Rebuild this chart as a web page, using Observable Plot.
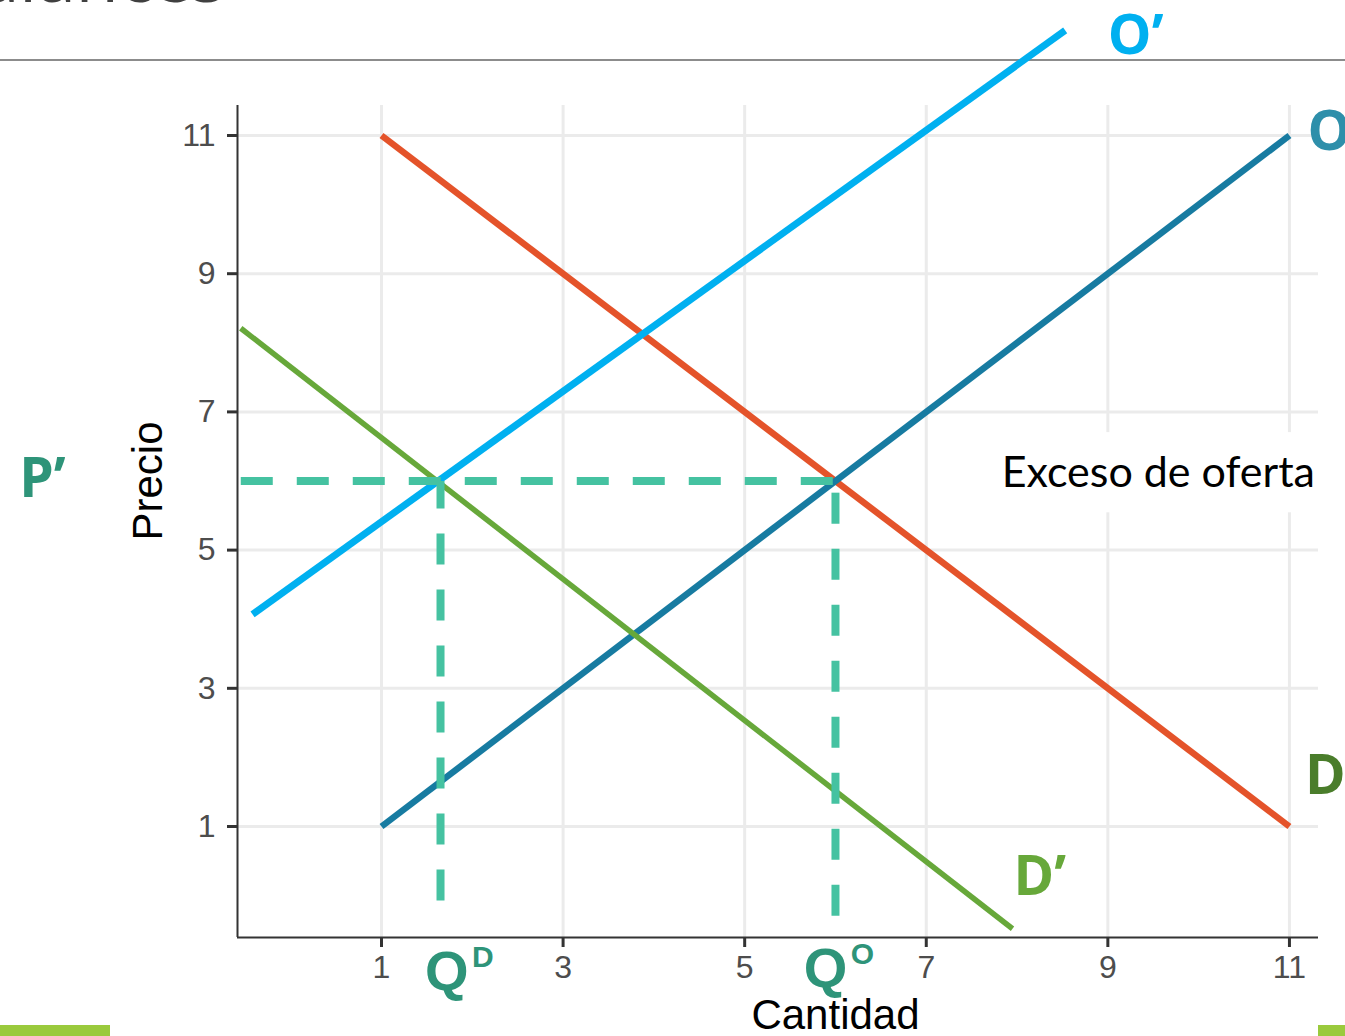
<!DOCTYPE html>
<html>
<head>
<meta charset="utf-8">
<script src="https://cdn.jsdelivr.net/npm/d3@7"></script>
<script src="https://cdn.jsdelivr.net/npm/@observablehq/plot@0.6"></script>
<style>
  html, body { margin: 0; padding: 0; background: #fff; }
  #wrap { position: relative; width: 1345px; height: 1036px; overflow: hidden; background: #fff; }
  #chart { position: absolute; left: 0; top: 0; }
  #chart svg { overflow: visible; }
  .title { position: absolute; right: 1120px; top: -60px; font-family: "Open Sans", sans-serif; font-size: 70px; line-height: 70px; color: #404040; white-space: nowrap; }
  .hrule { position: absolute; left: 0; top: 59px; width: 1345px; height: 2px; background: #8C8C8C; }
  .bar { position: absolute; top: 1025px; height: 11px; background: #9ACA3C; }
</style>
</head>
<body>
<div id="wrap">
  <div class="title">Balances</div>
  <div class="hrule"></div>
  <div id="chart"></div>
  <div class="bar" style="left:0;width:110px"></div>
  <div class="bar" style="left:1318px;width:27px"></div>
</div>
<script>
// ---- axis ticks ----
const xTicks = [1, 3, 5, 7, 9, 11];
const yTicks = [1, 3, 5, 7, 9, 11];
const xDomain = [-0.586, 11.32];
const yDomain = [-0.606, 11.434];

// ---- curves (Cantidad, Precio) ----
const demandQ = [1, 11];        const demandP = [11, 1];          // D
const supplyQ = [1, 11];        const supplyP = [1, 11];          // O
const supplyNewQ = [-0.42, 8.53]; const supplyNewP = [4.07, 12.52]; // O'
const demandNewQ = [-0.55, 7.95]; const demandNewP = [8.21, -0.48]; // D'

// ---- new price and quantities ----
const priceNew = 6;             // P'
const qDemandNew = 1.65;        // Q^D
const qSupplyNew = 6;           // Q^O
const dashFloorD = -0.07;
const dashFloorO = -0.29;

// ---- labels ----
const curveLabels = ["O’", "O", "D", "D’", "P’"];
const curveLabelX = [9.0, 11.2, 11.17, 7.96, -2.99];
const curveLabelY = [12.43, 11.04, 1.72, 0.26, 6.02];
const curveLabelColor = ["#00B0F0", "#2E8FAA", "#4A7D2B", "#67A83A", "#2E9479"];

const toPts = (xs, ys) => xs.map((x, i) => ({x, y: ys[i]}));

const hDash = toPts([xDomain[0] + 0.036, qSupplyNew], [priceNew, priceNew]);
const vDashD = toPts([qDemandNew, qDemandNew], [dashFloorD, priceNew]);
const vDashO = toPts([qSupplyNew, qSupplyNew], [dashFloorO, priceNew]);

const labelRows = curveLabels.map((t, i) => ({t, x: curveLabelX[i], y: curveLabelY[i], c: curveLabelColor[i]}));

const qLabels = [
  {q: "Q", s: "D", x: 1.48, y: -1.1},
  {q: "Q", s: "O", x: 5.65, y: -1.06}
];

const exceso = {x1: 7.76, x2: 11.34, y1: 5.54, y2: 6.7, text: "Exceso de oferta", tx: 7.83, ty: 6.11};

const sans = "Liberation Sans, Arial, sans-serif";
const lab = "Open Sans, Lato, sans-serif";

const plot = Plot.plot({
  width: 1345,
  height: 1036,
  marginLeft: 237,
  marginRight: 27,
  marginTop: 105,
  marginBottom: 99,
  x: {domain: xDomain},
  y: {domain: yDomain},
  style: {background: "transparent", overflow: "visible", fontFamily: sans},
  marks: [
    Plot.gridX(xTicks, {stroke: "#EBEBEB", strokeOpacity: 1, strokeWidth: 3}),
    Plot.gridY(yTicks, {stroke: "#EBEBEB", strokeOpacity: 1, strokeWidth: 3}),
    Plot.rect([exceso], {x1: "x1", x2: "x2", y1: "y1", y2: "y2", fill: "white"}),
    Plot.ruleX([xDomain[0]], {y1: yDomain[0], y2: yDomain[1], stroke: "#333", strokeWidth: 2}),
    Plot.ruleY([yDomain[0]], {x1: xDomain[0], x2: xDomain[1], stroke: "#333", strokeWidth: 2}),
    Plot.axisX(xTicks, {tickSize: 10, tickPadding: 8, strokeWidth: 3, stroke: "#333", fill: "#4D4D4D", fontSize: 32, label: null, tickFormat: d => String(d)}),
    Plot.axisY(yTicks, {tickSize: 10, tickPadding: 12, strokeWidth: 3, stroke: "#333", fill: "#4D4D4D", fontSize: 32, label: null, tickFormat: d => String(d)}),
    // demand & supply
    Plot.line(toPts(demandQ, demandP), {x: "x", y: "y", stroke: "#E4532A", strokeWidth: 6.5, strokeLinecap: "butt"}),
    Plot.line(toPts(supplyQ, supplyP), {x: "x", y: "y", stroke: "#177BA1", strokeWidth: 6.5, strokeLinecap: "butt"}),
    Plot.line(toPts(supplyNewQ, supplyNewP), {x: "x", y: "y", stroke: "#00B0F0", strokeWidth: 7, strokeLinecap: "butt"}),
    Plot.line(toPts(demandNewQ, demandNewP), {x: "x", y: "y", stroke: "#67A83A", strokeWidth: 5.5, strokeLinecap: "butt"}),
    // dashed guides
    Plot.line(hDash, {x: "x", y: "y", stroke: "#45C2A1", strokeWidth: 8, strokeDasharray: "32,24", strokeLinecap: "butt"}),
    Plot.line(vDashD, {x: "x", y: "y", stroke: "#45C2A1", strokeWidth: 8, strokeDasharray: "31,25", strokeLinecap: "butt"}),
    Plot.line(vDashO, {x: "x", y: "y", stroke: "#45C2A1", strokeWidth: 8, strokeDasharray: "31,25", strokeLinecap: "butt"}),
    // axis titles
    Plot.text(["Cantidad"], {x: 6, y: -1.73, text: d => d, fontSize: 42, fill: "black", lineAnchor: "middle"}),
    Plot.text(["Precio"], {x: -1.566, y: 6, text: d => d, fontSize: 42, fill: "black", rotate: -90, lineAnchor: "middle"}),
    // excess label
    Plot.text([exceso], {x: "tx", y: "ty", text: "text", fontSize: 43, fontFamily: "Lato, sans-serif", fill: "black", textAnchor: "start", lineAnchor: "middle"}),
    // curve labels
    Plot.text(labelRows, {x: "x", y: "y", text: "t", fill: d => d.c, fontSize: 55, fontWeight: "bold", fontFamily: lab, textAnchor: "start", lineAnchor: "middle"}),
    // Q labels
    Plot.text(qLabels, {x: "x", y: "y", text: "q", fill: "#2E9479", fontSize: 56, fontWeight: "bold", fontFamily: sans, textAnchor: "start", lineAnchor: "middle"}),
    Plot.text(qLabels, {x: "x", y: "y", text: "s", fill: "#2E9479", fontSize: 30, fontWeight: "bold", fontFamily: sans, textAnchor: "start", lineAnchor: "middle", dx: 47, dy: -14})
  ]
});
document.getElementById("chart").appendChild(plot);
</script>
</body>
</html>
